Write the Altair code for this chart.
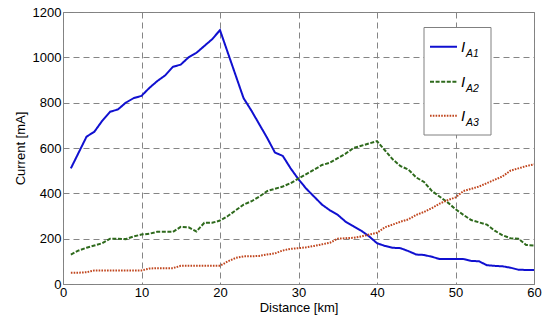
import altair as alt
import pandas as pd

distance = list(range(1, 61))
i_a1 = [510, 580, 650, 672, 720, 760, 770, 800, 820, 830,
        865, 895, 920, 958, 968, 1000, 1020, 1050, 1080, 1120,
        1020, 920, 820, 765, 705, 645, 580, 565, 510, 462,
        420, 385, 350, 325, 305, 275, 255, 235, 210, 180,
        168, 160, 158, 145, 130, 128, 120, 110, 110, 110,
        110, 102, 100, 83, 80, 78, 72, 63, 62, 62]
i_a2 = [130, 148, 160, 170, 180, 200, 200, 198, 210, 218,
        222, 230, 230, 230, 252, 250, 232, 270, 270, 280,
        300, 325, 350, 365, 385, 410, 420, 430, 445, 465,
        485, 505, 525, 535, 555, 575, 600, 610, 620, 630,
        590, 550, 520, 505, 470, 450, 410, 385, 360, 330,
        305, 282, 272, 262, 235, 215, 202, 200, 172, 170]
i_a3 = [50, 50, 52, 60, 60, 60, 60, 60, 60, 60,
        68, 70, 70, 70, 80, 80, 80, 80, 80, 80,
        100, 115, 122, 122, 124, 130, 135, 148, 155, 158,
        162, 168, 175, 182, 200, 202, 204, 210, 218, 226,
        250, 262, 275, 285, 305, 318, 335, 355, 370, 382,
        410, 420, 430, 445, 460, 475, 500, 510, 520, 528]

series_names = ["IA1", "IA2", "IA3"]
subscripts = ["A1", "A2", "A3"]
colors = ["#1010D0", "#2E6A1C", "#C0461E"]
dashes = [[1, 0], [4, 1.6], [1.6, 1.2]]
x_ticks = [0, 10, 20, 30, 40, 50, 60]
y_ticks = [0, 200, 400, 600, 800, 1000, 1200]

rows = []
for name, vals in zip(series_names, [i_a1, i_a2, i_a3]):
    for d, v in zip(distance, vals):
        rows.append({"Distance": d, "Current": v, "series": name})
df = pd.DataFrame(rows)

FONT = "Liberation Sans"
W, H = 471, 272

lines = alt.Chart(df).mark_line(strokeWidth=2).encode(
    x=alt.X("Distance:Q", scale=alt.Scale(domain=[0, 60], nice=False),
            axis=alt.Axis(values=x_ticks, title="Distance [km]", format="d")),
    y=alt.Y("Current:Q", scale=alt.Scale(domain=[0, 1200], nice=False),
            axis=alt.Axis(values=y_ticks, title="Current [mA]", format="d")),
    color=alt.Color("series:N", scale=alt.Scale(domain=series_names, range=colors), legend=None),
    strokeDash=alt.StrokeDash("series:N", scale=alt.Scale(domain=series_names, range=dashes), legend=None),
)

one = pd.DataFrame({"k": [0]})
layers = [lines]
# legend box
layers.append(alt.Chart(one).mark_rect(fill="white", stroke="#808080", strokeWidth=1).encode(
    x=alt.value(361), x2=alt.value(428), y=alt.value(15.5), y2=alt.value(123)))
ys = [34.7, 69.7, 103.7]
for i in range(3):
    yy = ys[i]
    layers.append(alt.Chart(one).mark_rule(color=colors[i], strokeWidth=2, strokeDash=dashes[i]).encode(
        x=alt.value(367), x2=alt.value(394), y=alt.value(yy)))
    layers.append(alt.Chart(one).mark_text(text="I", font=FONT, fontSize=15, fontStyle="italic",
                                           align="left", baseline="alphabetic", color="black").encode(
        x=alt.value(398), y=alt.value(yy + 5)))
    layers.append(alt.Chart(one).mark_text(text=subscripts[i], font=FONT, fontSize=10.5, fontStyle="italic",
                                           align="left", baseline="alphabetic", color="black").encode(
        x=alt.value(403), y=alt.value(yy + 10)))

chart = alt.layer(*layers).properties(
    width=W, height=H,
    autosize=alt.AutoSizeParams(type="none"),
    padding={"left": 55, "top": 4, "right": 8, "bottom": 32},
).configure_view(
    stroke="#808080", strokeWidth=1
).configure_axis(
    domain=False, ticks=False,
    grid=True, gridDash=[6, 4], gridColor="#858585", gridWidth=1, gridOpacity=1,
    labelFont=FONT, labelFontSize=13, labelColor="black", labelPadding=2,
    titleFont=FONT, titleFontSize=13, titleFontWeight="normal", titleColor="black",
).configure_axisY(titlePadding=5).configure_axisX(titlePadding=2, labelFlush=False)

chart.save("out.html", embed_options={"renderer": "svg", "actions": False})
